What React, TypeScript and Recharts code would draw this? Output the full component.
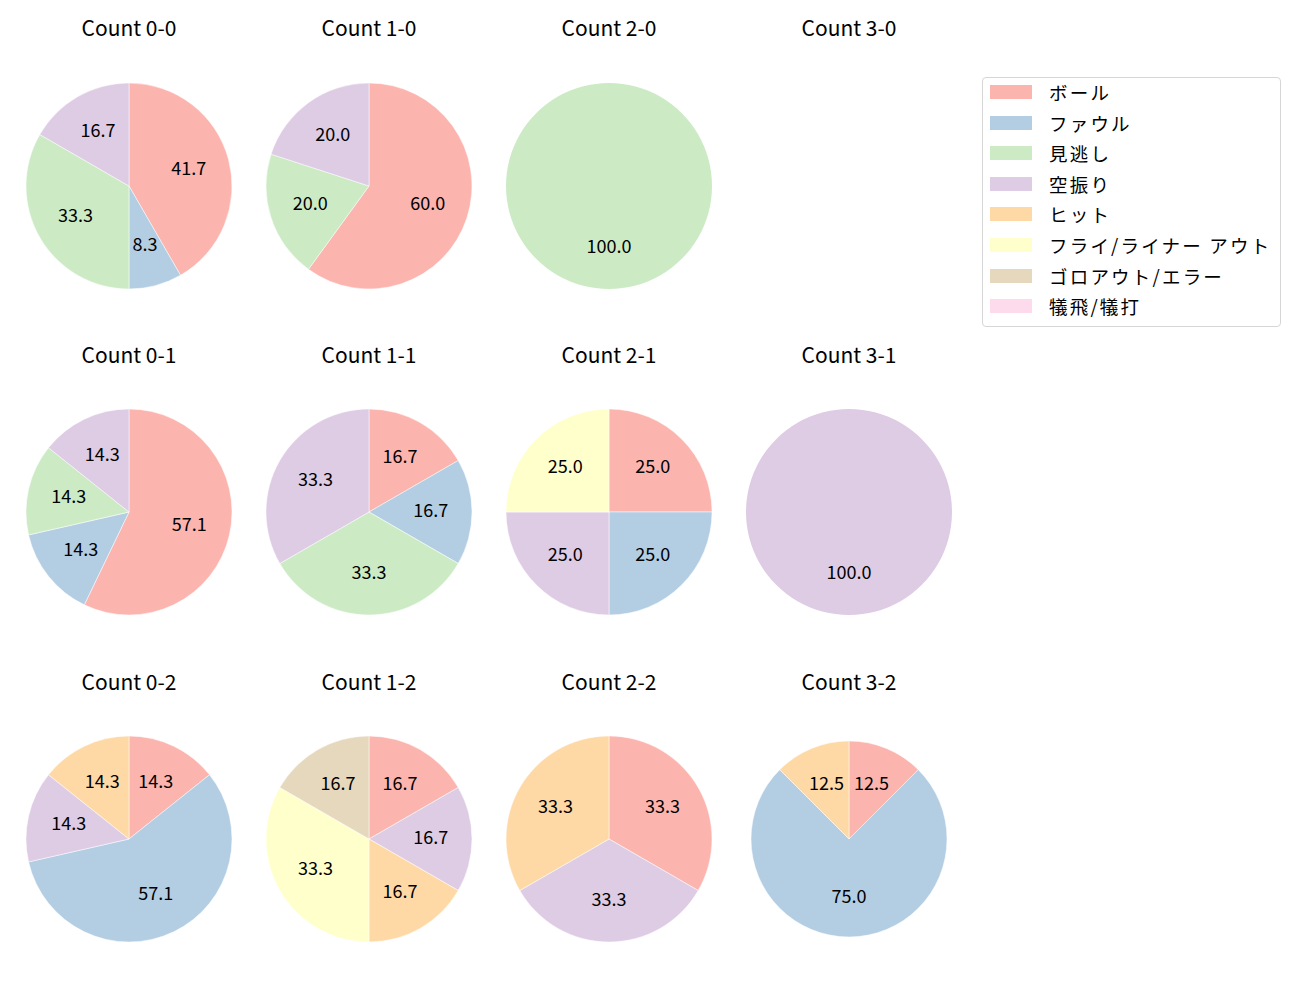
import React from 'react'
import { PieChart, Pie, Cell } from 'recharts'

const categories = [
  'ボール',
  'ファウル',
  '見逃し',
  '空振り',
  'ヒット',
  'フライ/ライナー アウト',
  'ゴロアウト/エラー',
  '犠飛/犠打',
]
const colors = ['#fbb4ae', '#b3cde3', '#ccebc5', '#decbe4', '#fed9a6', '#ffffcc', '#e5d8bd', '#fddaec']

// pitch counts per category, same order as categories
const count00 = [5, 1, 4, 2, 0, 0, 0, 0]
const count10 = [3, 0, 1, 1, 0, 0, 0, 0]
const count20 = [0, 0, 1, 0, 0, 0, 0, 0]
const count30 = [0, 0, 0, 0, 0, 0, 0, 0]
const count01 = [4, 1, 1, 1, 0, 0, 0, 0]
const count11 = [1, 1, 2, 2, 0, 0, 0, 0]
const count21 = [1, 1, 0, 1, 0, 1, 0, 0]
const count31 = [0, 0, 0, 1, 0, 0, 0, 0]
const count02 = [1, 4, 0, 1, 1, 0, 0, 0]
const count12 = [1, 0, 0, 1, 1, 2, 1, 0]
const count22 = [1, 0, 0, 1, 1, 0, 0, 0]
const count32 = [1, 6, 0, 0, 1, 0, 0, 0]

const panels = [
  { title: 'Count 0-0', counts: count00, col: 0, row: 0 },
  { title: 'Count 1-0', counts: count10, col: 1, row: 0 },
  { title: 'Count 2-0', counts: count20, col: 2, row: 0 },
  { title: 'Count 3-0', counts: count30, col: 3, row: 0 },
  { title: 'Count 0-1', counts: count01, col: 0, row: 1 },
  { title: 'Count 1-1', counts: count11, col: 1, row: 1 },
  { title: 'Count 2-1', counts: count21, col: 2, row: 1 },
  { title: 'Count 3-1', counts: count31, col: 3, row: 1 },
  { title: 'Count 0-2', counts: count02, col: 0, row: 2 },
  { title: 'Count 1-2', counts: count12, col: 1, row: 2 },
  { title: 'Count 2-2', counts: count22, col: 2, row: 2 },
  { title: 'Count 3-2', counts: count32, col: 3, row: 2, radius: 98 },
]

const colX = [129, 369, 609, 849]
const rowY = [186, 512, 839]
const titleY = [27, 354, 681]
const FONT = '"Noto Sans CJK JP", "Noto Sans", sans-serif'
const RADIAN = Math.PI / 180
const BOX = 230

function renderLabel(props: any) {
  const { cx, cy, midAngle, outerRadius, percent } = props
  const r = outerRadius * 0.6
  const x = cx + r * Math.cos(-midAngle * RADIAN)
  const y = cy + r * Math.sin(-midAngle * RADIAN)
  return (
    <text x={x} y={y} dy={-3} fill="#000" textAnchor="middle" dominantBaseline="central" fontSize={18} fontFamily={FONT}>
      {(percent * 100).toFixed(1)}
    </text>
  )
}

function PiePanel({ title, counts, col, row, radius = 103 }: { title: string; counts: number[]; col: number; row: number; radius?: number }) {
  const data = categories
    .map((name, i) => ({ name, value: counts[i], color: colors[i] }))
    .filter((d) => d.value > 0)
  return (
    <>
      <div
        style={{
          position: 'absolute',
          left: colX[col] - 120,
          top: titleY[row] - 15,
          width: 240,
          height: 30,
          lineHeight: '30px',
          textAlign: 'center',
          fontSize: 21,
          color: '#000',
        }}
      >
        {title}
      </div>
      {data.length > 0 && (
        <div style={{ position: 'absolute', left: colX[col] - BOX / 2, top: rowY[row] - BOX / 2 }}>
          <PieChart width={BOX} height={BOX} margin={{ top: 0, right: 0, bottom: 0, left: 0 }}>
            <Pie
              data={data}
              dataKey="value"
              nameKey="name"
              cx={BOX / 2}
              cy={BOX / 2}
              outerRadius={radius}
              startAngle={90}
              endAngle={-270}
              stroke={data.length > 1 ? '#fff' : 'none'}
              strokeWidth={0.5}
              label={renderLabel}
              labelLine={false}
              isAnimationActive={false}
            >
              {data.map((d) => (
                <Cell key={d.name} fill={d.color} />
              ))}
            </Pie>
          </PieChart>
        </div>
      )}
    </>
  )
}

function Legend() {
  return (
    <div
      style={{
        position: 'absolute',
        left: 982,
        top: 77,
        width: 299,
        height: 250,
        boxSizing: 'border-box',
        border: '1px solid #d6d6d6',
        borderRadius: 4,
        background: '#fff',
      }}
    >
      {categories.map((c, i) => (
        <div key={c} style={{ position: 'absolute', left: 0, top: i * 30.6 - 1, height: 30, width: 297 }}>
          <div style={{ position: 'absolute', left: 7, top: 8, width: 42, height: 14, background: colors[i] }} />
          <div
            style={{
              position: 'absolute',
              left: 66,
              top: 0,
              lineHeight: '30px',
              fontSize: 18.5,
              letterSpacing: 2.2,
              whiteSpace: 'nowrap',
            }}
          >
            {c}
          </div>
        </div>
      ))}
    </div>
  )
}

export default function App() {
  return (
    <div
      style={{
        position: 'absolute',
        left: 0,
        top: 0,
        width: 1300,
        height: 1000,
        background: '#fff',
        fontFamily: FONT,
        color: '#000',
      }}
    >
      {panels.map((p) => (
        <PiePanel key={p.title} {...p} />
      ))}
      <Legend />
    </div>
  )
}
